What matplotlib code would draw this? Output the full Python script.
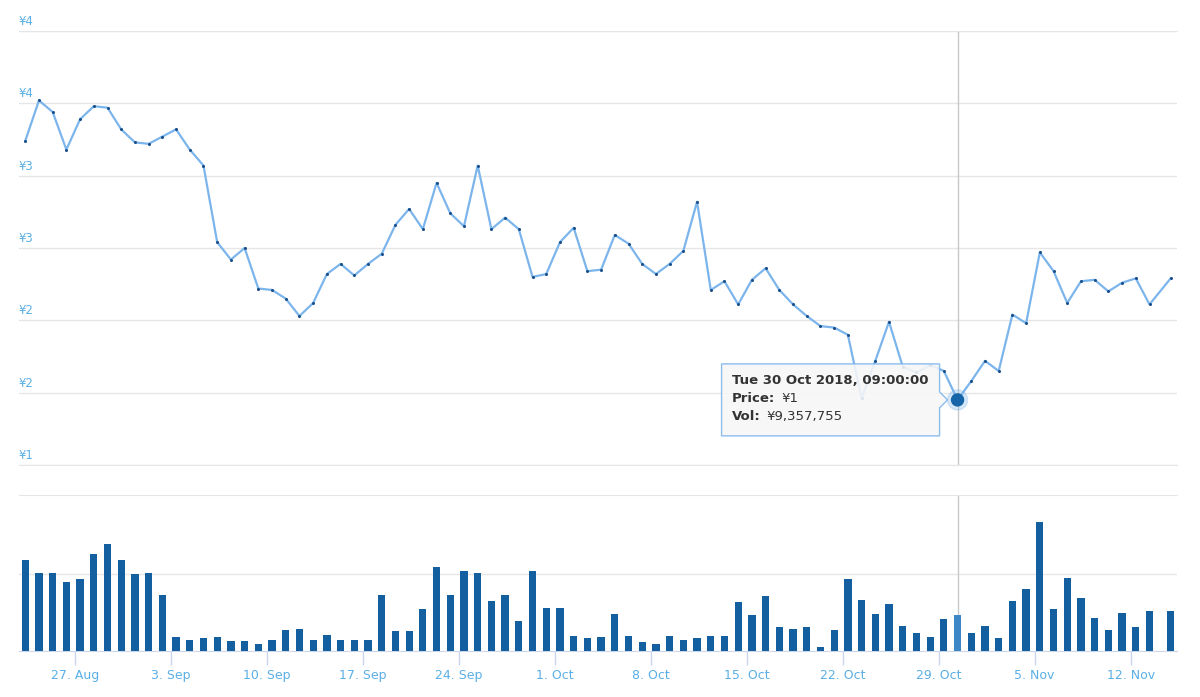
import pandas as pd
import numpy as np
import matplotlib
matplotlib.use("Agg")
import matplotlib.pyplot as plt
import matplotlib.dates as mdates
import matplotlib.transforms as mtransforms
from matplotlib.patches import Polygon

plt.rcParams["font.family"] = ["DejaVu Sans"]

# =========================
# 1. DATA
# =========================
dates = list(pd.date_range("2018-08-23 09:00", periods=83, freq="D")) + [pd.Timestamp("2018-11-14 22:00")]

price = [
    3.74, 4.02, 3.94, 3.68, 3.89, 3.98, 3.97, 3.82, 3.73, 3.72,
    3.77, 3.82, 3.68, 3.57, 3.04, 2.92, 3.00, 2.72, 2.71, 2.65,
    2.53, 2.62, 2.82, 2.89, 2.81, 2.89, 2.96, 3.16, 3.27, 3.13,
    3.45, 3.24, 3.15, 3.57, 3.13, 3.21, 3.13, 2.80, 2.82, 3.04,
    3.14, 2.84, 2.85, 3.09, 3.03, 2.89, 2.82, 2.89, 2.98, 3.32,
    2.71, 2.77, 2.61, 2.78, 2.86, 2.71, 2.61, 2.53, 2.46, 2.45,
    2.40, 1.96, 2.22, 2.49, 2.18, 2.14, 2.19, 2.15, 1.95, 2.08,
    2.22, 2.15, 2.54, 2.48, 2.97, 2.84, 2.62, 2.77, 2.78, 2.70,
    2.76, 2.79, 2.61, 2.79,
]

# volume in millions of yen
volume_m = [
    23.7, 20.3, 20.3, 18.1, 18.7, 25.3, 27.8, 23.7, 20.0, 20.3,
    14.6, 3.7, 3.0, 3.3, 3.7, 2.7, 2.7, 1.7, 3.0, 5.5,
    5.8, 3.0, 4.3, 3.0, 3.0, 3.0, 14.6, 5.2, 5.2, 10.9,
    21.8, 14.6, 21.0, 20.3, 13.0, 14.6, 7.7, 21.0, 11.2, 11.2,
    4.0, 3.3, 3.7, 9.7, 4.0, 2.3, 1.8, 4.0, 3.0, 3.3,
    4.0, 4.0, 12.7, 9.3, 14.3, 6.2, 5.8, 6.2, 1.1, 5.5,
    18.7, 13.3, 9.7, 12.2, 6.5, 4.6, 3.7, 8.3, 9.357755, 4.6,
    6.5, 3.3, 13.0, 16.2, 33.7, 10.9, 19.0, 13.7, 8.7, 5.5,
    9.9, 6.2, 10.5, 10.5,
]

price_ticks = [1.5, 2.0, 2.5, 3.0, 3.5, 4.0, 4.5]
price_tick_labels = ["¥%d" % int(v) for v in price_ticks]

hover_idx = 68  # Tue 30 Oct 2018, 09:00

# =========================
# 2. STYLE
# =========================
LINE_C = "#7cb5ec"
DOT_C = "#1b4f8a"
BAR_C = "#135fa0"
BAR_HL = "#3d87c6"
GRID_C = "#e6e6e6"
LABEL_C = "#5aafe6"
AXIS_C = "#ccd6eb"
CROSS_C = "#c8c8c8"
TEXT_C = "#333333"

x0 = pd.Timestamp("2018-08-27") - pd.Timedelta(days=4.08)
x1 = pd.Timestamp("2018-08-27") + pd.Timedelta(days=80.38)

fig = plt.figure(figsize=(12, 6.97), dpi=100)
ax_p = fig.add_axes([19 / 1200, 232 / 697, 1158 / 1200, 434 / 697])
ax_v = fig.add_axes([19 / 1200, 46 / 697, 1158 / 1200, 156 / 697])

# =========================
# 3. PRICE PANEL
# =========================
ax_p.plot(dates, price, color=LINE_C, lw=1.6, zorder=3,
          marker="o", markersize=2.2, mfc=DOT_C, mec="none")
ax_p.set_xlim(x0, x1)
ax_p.set_ylim(1.5, 4.5)
ax_p.set_yticks(price_ticks)
ax_p.yaxis.grid(True, color=GRID_C, lw=1)
ax_p.tick_params(left=False, bottom=False, labelleft=False, labelbottom=False)
for s in ["left", "right"]:
    ax_p.spines[s].set_visible(False)
for s in ["top", "bottom"]:
    ax_p.spines[s].set_color(GRID_C)
for v, lbl in zip(price_ticks, price_tick_labels):
    ax_p.annotate(lbl, xy=(0, v), xycoords=ax_p.get_yaxis_transform(),
                  xytext=(0, 3), textcoords="offset pixels",
                  ha="left", va="bottom", fontsize=8.5, color=LABEL_C)

hx, hy = dates[hover_idx], price[hover_idx]
ax_p.axvline(hx, color=CROSS_C, lw=1, zorder=2)

# =========================
# 4. VOLUME PANEL
# =========================
vol = np.array(volume_m) * 1e6
colors = [BAR_HL if i == hover_idx else BAR_C for i in range(len(vol))]
ax_v.bar(dates, vol, width=0.53, color=colors, zorder=3)
ax_v.set_xlim(x0, x1)
ax_v.set_ylim(0, 40.7e6)
ax_v.set_yticks([20e6])
ax_v.yaxis.grid(True, color=GRID_C, lw=1)
ax_v.axvline(hx, color=CROSS_C, lw=1, zorder=2)
for s in ["left", "right"]:
    ax_v.spines[s].set_visible(False)
ax_v.spines["top"].set_color(GRID_C)
ax_v.spines["bottom"].set_color(AXIS_C)
ax_v.tick_params(left=False, labelleft=False)
ax_v.xaxis.set_major_locator(mdates.WeekdayLocator(byweekday=mdates.MO))
ax_v.xaxis.set_major_formatter(mdates.DateFormatter("%-d. %b"))
ax_v.tick_params(axis="x", length=10, width=1, color=AXIS_C, pad=3,
                 labelsize=9, labelcolor=LABEL_C)

# =========================
# 5. TOOLTIP
# =========================
anchor = mtransforms.ScaledTranslation(mdates.date2num(hx), hy, ax_p.transData)
trans = fig.dpi_scale_trans + anchor

halo = plt.Circle((0, 0), 0.10, transform=trans, color=LINE_C, alpha=0.3, zorder=6)
dot = plt.Circle((0, 0), 0.06, transform=trans, color="#1565a8", zorder=7)
ax_p.add_artist(halo)
ax_p.add_artist(dot)

box = np.array([
    [-236, 36], [-18, 36], [-18, 8], [-10, 0], [-18, -8],
    [-18, -36], [-236, -36],
]) / 100.0
tip = Polygon(box, closed=True, transform=trans, facecolor="#f7f7f7",
              edgecolor=LINE_C, lw=1, alpha=0.88, zorder=5, clip_on=False)
ax_p.add_patch(tip)

xy = (hx, hy)
tip_lines = [
    (hx.strftime("%a %d %b %Y, %H:%M:%S"), "", 19, 0),
    ("Price:", "¥%d" % int(hy), 1, 50),
    ("Vol:", "¥" + f"{vol[hover_idx]:,.0f}", -17, 35),
]
for head, val, dy, dx in tip_lines:
    ax_p.annotate(head, xy=xy, xytext=(-226, dy), textcoords="offset pixels",
                  fontsize=9.5, fontweight="bold", color=TEXT_C, va="center", zorder=8)
    if val:
        ax_p.annotate(val, xy=xy, xytext=(-226 + dx, dy), textcoords="offset pixels",
                      fontsize=9.5, color=TEXT_C, va="center", zorder=8)

fig.savefig("out.png", dpi=100, facecolor="white")
